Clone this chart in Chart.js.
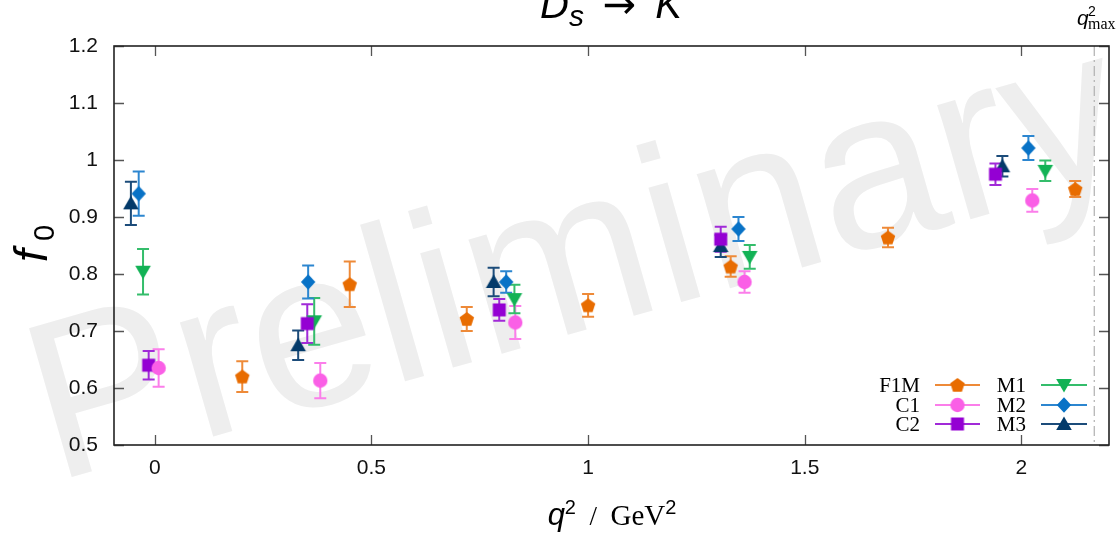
<!DOCTYPE html>
<html>
<head>
<meta charset="utf-8">
<script src="https://cdn.jsdelivr.net/npm/chart.js@4.4.0/dist/chart.umd.min.js"></script>
<style>
html,body{margin:0;padding:0;background:#fff;}
#wrap{width:1117px;height:534px;position:relative;}
</style>
</head>
<body>
<div id="wrap"><canvas id="c" width="1117" height="534"></canvas></div>
<script>
// ---- data ----
const xTicks = [0, 0.5, 1, 1.5, 2];
const yTicks = [0.5, 0.6, 0.7, 0.8, 0.9, 1.0, 1.1, 1.2];
const xRange = [-0.094, 2.202];
const yRange = [0.5, 1.2];
const q2Max = 2.168;

const seriesNames = ["F1M", "C1", "C2", "M1", "M2", "M3"];

const q2_F1M = [0.202, 0.450, 0.720, 1.000, 1.329, 1.692, 2.124];
const f0_F1M = [0.620, 0.782, 0.721, 0.745, 0.813, 0.864, 0.949];
const err_F1M = [0.027, 0.040, 0.021, 0.020, 0.018, 0.017, 0.014];

const q2_C1 = [0.009, 0.382, 0.832, 1.361, 2.025];
const f0_C1 = [0.635, 0.613, 0.715, 0.786, 0.929];
const err_C1 = [0.033, 0.031, 0.029, 0.019, 0.020];

const q2_C2 = [-0.014, 0.352, 0.795, 1.306, 1.940];
const f0_C2 = [0.640, 0.713, 0.737, 0.861, 0.975];
const err_C2 = [0.025, 0.034, 0.019, 0.022, 0.019];

const q2_M1 = [-0.027, 0.368, 0.830, 1.373, 2.055];
const f0_M1 = [0.804, 0.717, 0.756, 0.830, 0.981];
const err_M1 = [0.040, 0.041, 0.025, 0.021, 0.018];

const q2_M2 = [-0.037, 0.354, 0.811, 1.347, 2.016];
const f0_M2 = [0.941, 0.786, 0.786, 0.879, 1.021];
const err_M2 = [0.039, 0.029, 0.019, 0.021, 0.021];

const q2_M3 = [-0.055, 0.331, 0.782, 1.306, 1.956];
const f0_M3 = [0.924, 0.675, 0.786, 0.849, 0.989];
const err_M3 = [0.038, 0.026, 0.025, 0.019, 0.018];

// ---- styles ----
const SERIES = [
  {name: seriesNames[0], q: q2_F1M, f: f0_F1M, e: err_F1M, color: '#e86c00', bar: '#ee8a38', shape: 'pentagon'},
  {name: seriesNames[1], q: q2_C1,  f: f0_C1,  e: err_C1,  color: '#fa5fe6', bar: '#fb7eea', shape: 'circle'},
  {name: seriesNames[2], q: q2_C2,  f: f0_C2,  e: err_C2,  color: '#9400d3', bar: '#a12ad8', shape: 'square'},
  {name: seriesNames[3], q: q2_M1,  f: f0_M1,  e: err_M1,  color: '#12b255', bar: '#34bd6b', shape: 'tridown'},
  {name: seriesNames[4], q: q2_M2,  f: f0_M2,  e: err_M2,  color: '#0872c6', bar: '#2c86d0', shape: 'diamond'},
  {name: seriesNames[5], q: q2_M3,  f: f0_M3,  e: err_M3,  color: '#033a6a', bar: '#1c4c7a', shape: 'triup'}
];

function makeMarker(shape, color) {
  const c = document.createElement('canvas');
  c.width = 20; c.height = 20;
  const g = c.getContext('2d');
  g.fillStyle = color;
  g.translate(10, 10);
  g.beginPath();
  if (shape === 'pentagon') {
    const r = 7.6;
    for (let k = 0; k < 5; k++) {
      const a = -Math.PI / 2 + k * 2 * Math.PI / 5;
      const px = r * Math.cos(a), py = r * Math.sin(a) + 0.7;
      if (k === 0) g.moveTo(px, py); else g.lineTo(px, py);
    }
    g.closePath();
  } else if (shape === 'circle') {
    g.arc(0, 0, 7.2, 0, Math.PI * 2);
  } else if (shape === 'square') {
    g.rect(-6.5, -6.5, 13, 13);
  } else if (shape === 'diamond') {
    g.moveTo(0, -7.8); g.lineTo(7.2, 0); g.lineTo(0, 7.8); g.lineTo(-7.2, 0); g.closePath();
  } else if (shape === 'triup') {
    g.moveTo(0, -7.5); g.lineTo(7.8, 6); g.lineTo(-7.8, 6); g.closePath();
  } else if (shape === 'tridown') {
    g.moveTo(0, 7.5); g.lineTo(7.8, -6); g.lineTo(-7.8, -6); g.closePath();
  }
  g.fill();
  return c;
}
SERIES.forEach(s => { s.img = makeMarker(s.shape, s.color); });

// ---- plugins ----
const background = {
  id: 'background',
  beforeDraw(chart) {
    const ctx = chart.ctx;
    ctx.save();
    ctx.fillStyle = '#ffffff';
    ctx.fillRect(0, 0, chart.width, chart.height);
    // watermark
    ctx.translate(54, 482);
    ctx.rotate(-16 * Math.PI / 180);
    ctx.fillStyle = '#eeeeee';
    ctx.font = '225px "Liberation Sans", Arial, sans-serif';
    ctx.textBaseline = 'alphabetic';
    ctx.fillText('Preliminary', 0, 0);
    ctx.restore();
  }
};

const frameAndBars = {
  id: 'frameAndBars',
  beforeDatasetsDraw(chart) {
    const {ctx, chartArea: a, scales: {x, y}} = chart;
    ctx.save();
    // q2max dash-dot line
    const qx = x.getPixelForValue(q2Max);
    ctx.strokeStyle = '#b0b0b0';
    ctx.lineWidth = 1.2;
    ctx.setLineDash([10, 4, 2, 4]);
    ctx.beginPath(); ctx.moveTo(qx, a.top); ctx.lineTo(qx, a.bottom); ctx.stroke();
    ctx.setLineDash([]);
    // ticks (inward, mirrored)
    ctx.strokeStyle = '#555';
    ctx.lineWidth = 1.3;
    const tl = 10;
    ctx.beginPath();
    xTicks.forEach(v => {
      const px = Math.round(x.getPixelForValue(v)) + 0.5;
      ctx.moveTo(px, a.bottom); ctx.lineTo(px, a.bottom - tl);
      ctx.moveTo(px, a.top); ctx.lineTo(px, a.top + tl);
    });
    yTicks.forEach(v => {
      const py = Math.round(y.getPixelForValue(v)) + 0.5;
      ctx.moveTo(a.left, py); ctx.lineTo(a.left + tl, py);
      ctx.moveTo(a.right, py); ctx.lineTo(a.right - tl, py);
    });
    ctx.stroke();
    // frame
    ctx.strokeStyle = '#222';
    ctx.lineWidth = 1.6;
    ctx.strokeRect(a.left, a.top, a.right - a.left, a.bottom - a.top);
    // error bars
    SERIES.forEach(s => {
      ctx.strokeStyle = s.bar;
      ctx.lineWidth = 2;
      ctx.beginPath();
      s.q.forEach((qv, i) => {
        const px = x.getPixelForValue(qv);
        const p1 = y.getPixelForValue(s.f[i] - s.e[i]);
        const p2 = y.getPixelForValue(s.f[i] + s.e[i]);
        ctx.moveTo(px, p1); ctx.lineTo(px, p2);
        ctx.moveTo(px - 6, p1); ctx.lineTo(px + 6, p1);
        ctx.moveTo(px - 6, p2); ctx.lineTo(px + 6, p2);
      });
      ctx.stroke();
    });
    ctx.restore();
  }
};

const texts = {
  id: 'texts',
  afterDraw(chart) {
    const ctx = chart.ctx;
    ctx.save();
    ctx.fillStyle = '#000';
    ctx.textBaseline = 'alphabetic';
    ctx.textAlign = 'left';
    const SANS = '"Liberation Sans", Arial, sans-serif';
    const SERIF = '"Liberation Serif", "Times New Roman", serif';

    // Title: D_s -> K
    const parts = [
      {t: 'D', f: 'italic 40px ' + SANS, dy: 0},
      {t: 's', f: 'italic 30px ' + SANS, dy: 8},
      {t: '  ', f: '34px ' + SANS, dy: 0},
      {t: '\u2192', f: '40px "DejaVu Sans", sans-serif', dy: 0},
      {t: '  ', f: '34px ' + SANS, dy: 0},
      {t: 'K', f: 'italic 40px ' + SANS, dy: 0}
    ];
    let w = 0;
    parts.forEach(p => { ctx.font = p.f; p.w = ctx.measureText(p.t).width; w += p.w; });
    let cx = 611 - w / 2;
    parts.forEach(p => { ctx.font = p.f; ctx.fillText(p.t, cx, 18 + p.dy); cx += p.w; });

    // q2max label
    ctx.font = 'italic 21px ' + SANS;
    ctx.fillText('q', 1077, 25);
    ctx.font = '14px ' + SANS;
    ctx.fillText('2', 1088, 16);
    ctx.font = '16px ' + SERIF;
    ctx.fillText('max', 1088, 29);

    // x axis title: q^2 / GeV^2
    const xparts = [
      {t: 'q', f: 'italic 31px ' + SANS, dy: 0},
      {t: '2', f: '20px ' + SANS, dy: -11},
      {t: '  /  ', f: '27px ' + SERIF, dy: 0},
      {t: 'GeV', f: '29px ' + SERIF, dy: 0},
      {t: '2', f: '20px ' + SANS, dy: -11}
    ];
    w = 0;
    xparts.forEach(p => { ctx.font = p.f; p.w = ctx.measureText(p.t).width; w += p.w; });
    cx = 612 - w / 2;
    xparts.forEach(p => { ctx.font = p.f; ctx.fillText(p.t, cx, 525 + p.dy); cx += p.w; });

    // y axis title: f_0 rotated
    ctx.save();
    ctx.translate(47, 262);
    ctx.rotate(-Math.PI / 2);
    ctx.font = 'italic 46px ' + SANS;
    ctx.fillText('f', 0, 0);
    ctx.font = '29px ' + SANS;
    ctx.fillText('0', 21, 7);
    ctx.restore();

    // legend
    ctx.font = '21px ' + SERIF;
    ctx.textAlign = 'right';
    const rows = [385, 405, 424];
    const cols = [{tx: 920, l0: 935, l1: 980}, {tx: 1026, l0: 1041, l1: 1087}];
    SERIES.forEach((s, i) => {
      const col = cols[Math.floor(i / 3)];
      const ry = rows[i % 3];
      ctx.fillStyle = '#000';
      ctx.fillText(s.name, col.tx, ry + 7);
      ctx.strokeStyle = s.bar;
      ctx.lineWidth = 2;
      ctx.beginPath(); ctx.moveTo(col.l0, ry); ctx.lineTo(col.l1, ry); ctx.stroke();
      const mx = (col.l0 + col.l1) / 2;
      ctx.drawImage(s.img, mx - s.img.width / 2, ry - s.img.height / 2);
    });
    ctx.restore();
  }
};

// ---- chart ----
const datasets = SERIES.map(s => ({
  label: s.name,
  data: s.q.map((qv, i) => ({x: qv, y: s.f[i]})),
  pointStyle: s.img,
  pointRadius: 7,
  backgroundColor: s.color,
  borderColor: s.color,
  showLine: false
}));

new Chart(document.getElementById('c'), {
  type: 'scatter',
  data: {datasets},
  options: {
    responsive: false,
    animation: false,
    devicePixelRatio: 1,
    events: [],
    layout: {padding: {top: 46, right: 4, left: 0, bottom: 0}},
    plugins: {legend: {display: false}, tooltip: {enabled: false}, title: {display: false}},
    scales: {
      x: {
        type: 'linear', min: xRange[0], max: xRange[1],
        afterBuildTicks: axis => { axis.ticks = xTicks.map(v => ({value: v})); },
        afterFit: axis => { axis.height = 89; },
        grid: {display: false, drawTicks: false},
        border: {display: false},
        ticks: {color: '#111', padding: 11, maxRotation: 0, autoSkip: false,
          font: {family: '"Liberation Sans", Arial, sans-serif', size: 21},
          callback: v => String(v)}
      },
      y: {
        type: 'linear', min: yRange[0], max: yRange[1],
        afterBuildTicks: axis => { axis.ticks = yTicks.map(v => ({value: v})); },
        afterFit: axis => { axis.width = 114; },
        grid: {display: false, drawTicks: false},
        border: {display: false},
        ticks: {color: '#111', padding: 16, autoSkip: false,
          font: {family: '"Liberation Sans", Arial, sans-serif', size: 21},
          callback: v => String(Math.round(v * 10) / 10)}
      }
    }
  },
  plugins: [background, frameAndBars, texts]
});
</script>
</body>
</html>
